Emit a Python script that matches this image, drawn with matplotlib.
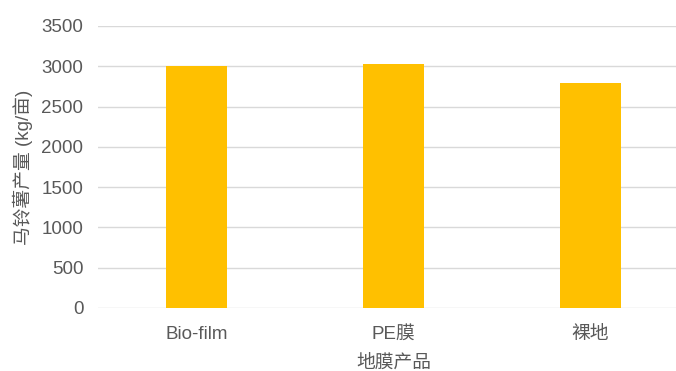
import matplotlib.pyplot as plt

plt.rcParams['font.family'] = ['Liberation Sans', 'Noto Sans CJK SC']

# 不同地膜处理的马铃薯产量
categories = ['Bio-film', 'PE膜', '裸地']
yields = [3005, 3030, 2795]
yticks = [0, 500, 1000, 1500, 2000, 2500, 3000, 3500]

fig = plt.figure(figsize=(6.76, 3.71), dpi=100)
# 右侧网格线延伸到图片边缘
ax = fig.add_axes([98 / 676, 63 / 371, 591 / 676, 282 / 371])

ax.bar(range(len(categories)), yields, width=0.31, color='#FFC000', zorder=3)

ax.set_xlim(-0.5, len(categories) - 0.5)
ax.set_ylim(0, 3500)
ax.set_yticks(yticks)
ax.set_xticks(range(len(categories)))
ax.set_xticklabels(categories)
ax.grid(axis='y', color='#D9D9D9', linewidth=1, zorder=0)
for s in ax.spines.values():
    s.set_visible(False)
ax.tick_params(length=0, labelsize=13.5, labelcolor='#595959')
ax.tick_params(axis='x', pad=13)
ax.tick_params(axis='y', pad=10.5)

ax.set_xlabel('地膜产品', fontsize=13.5, color='#595959', labelpad=8)
ax.set_ylabel('马铃薯产量 (kg/亩)', fontsize=13.5, color='#595959', labelpad=6)

fig.savefig('out.png', dpi=100)
